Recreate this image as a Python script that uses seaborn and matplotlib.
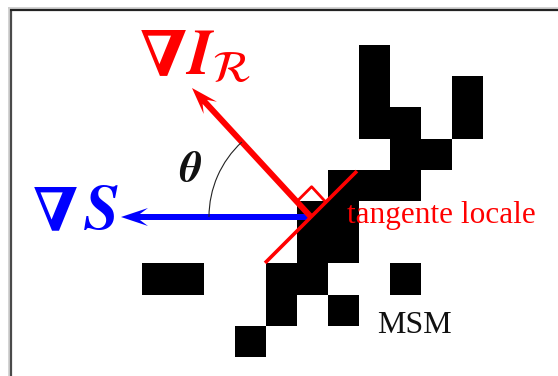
import numpy as np
import matplotlib
matplotlib.use("Agg")
import matplotlib.pyplot as plt
from matplotlib.patches import Arc
import seaborn as sns

# Black pixels of the MSM (column, row) on the coarse grid
cell_cols = [7, 7, 7, 8, 8, 8, 9, 10, 10, 6, 7, 5, 6, 5, 6, 4, 5, 4, 6, 3, 8, 0, 1]
cell_rows = [0, 1, 2, 2, 3, 4, 3, 1, 2, 4, 4, 5, 5, 6, 6, 7, 7, 8, 8, 9, 7, 7, 7]
n_cols, n_rows = 11, 10

# Geometry in image pixels
grid_left, grid_top, cell_w, cell_h = 142, 45, 31, 31.2
origin = (311, 217)
grad_s_tip = (121, 217)
grad_i_tip = (192, 88)
tangent_half = 65
right_angle_size = 21
arc_radius = 102

labels = {
    "nabla": "\u2207",
    "s": r"$\mathbfit{S}$",
    "i": r"$\mathbfit{I}_{\mathcal{R}}$",
    "theta": r"$\mathbfit{\theta}$",
    "tangent": "tangente locale",
    "msm": "MSM",
}

sns.set_theme(style="white")
plt.rcParams["mathtext.fontset"] = "stix"

W, H = 558, 376
fig = plt.figure(figsize=(W / 100, H / 100), dpi=100, facecolor="white")

# Pixel grid drawn as a masked heatmap
grid = np.zeros((n_rows, n_cols))
grid[cell_rows, cell_cols] = 1
ax_grid = fig.add_axes([grid_left / W, 1 - (grid_top + n_rows * cell_h) / H,
                        n_cols * cell_w / W, n_rows * cell_h / H])
sns.heatmap(grid, mask=grid == 0, cmap=["black"], cbar=False, ax=ax_grid,
            xticklabels=False, yticklabels=False, linewidths=0)
ax_grid.patch.set_alpha(0)
ax_grid.set_axis_off()

# Overlay in pixel coordinates
ax = fig.add_axes([0, 0, 1, 1])
ax.set_xlim(0, W)
ax.set_ylim(H, 0)
ax.set_axis_off()
ax.patch.set_alpha(0)

# frame
ax.plot([8.5, 8.5], [7, H], color="#cccccc", lw=1.2, solid_capstyle="butt")
ax.plot([8, W], [7.5, 7.5], color="#cccccc", lw=1.2, solid_capstyle="butt")
ax.plot([10.5, 10.5], [9, H], color="#4a4a4a", lw=1.6, solid_capstyle="butt")
ax.plot([9.5, W], [10, 10], color="#222222", lw=1.6, solid_capstyle="butt")

ox, oy = origin
red = "#ff0000"
blue = "#0000ff"

# tangent line
t = np.array([1, -1]) / np.sqrt(2)
ax.plot([ox - tangent_half * t[0], ox + tangent_half * t[0]],
        [oy - tangent_half * t[1], oy + tangent_half * t[1]], color=red, lw=2.6,
        solid_capstyle="butt")

# right-angle marker
u = np.array([grad_i_tip[0] - ox, grad_i_tip[1] - oy], dtype=float)
u /= np.linalg.norm(u)
p1 = np.array(origin) + right_angle_size * u
p3 = np.array(origin) + right_angle_size * t
p2 = p1 + right_angle_size * t
ax.plot([p1[0], p2[0], p3[0]], [p1[1], p2[1], p3[1]], color=red, lw=2.0)

# arrows
ax.arrow(ox, oy, grad_s_tip[0] - ox, grad_s_tip[1] - oy, width=6, head_width=18,
         head_length=27, overhang=0.3, length_includes_head=True, color=blue, lw=0)
ax.arrow(ox, oy, grad_i_tip[0] - ox, grad_i_tip[1] - oy, width=6, head_width=18,
         head_length=27, overhang=0.3, length_includes_head=True, color=red, lw=0)

# angle arc
ang = np.degrees(np.arctan2(grad_i_tip[1] - oy, grad_i_tip[0] - ox)) % 360
ax.add_patch(Arc(origin, 2 * arc_radius, 2 * arc_radius, theta1=180, theta2=ang,
                 color="#222222", lw=0.8))

# labels
ax.text(33, 230, labels["nabla"], color=blue, fontsize=43, ha="left", va="baseline",
        family="DejaVu Serif", weight="bold")
ax.text(83, 230, labels["s"], color=blue, fontsize=46, ha="left", va="baseline")
ax.text(140, 75, labels["nabla"], color=red, fontsize=45, ha="left", va="baseline",
        family="DejaVu Serif", weight="bold")
ax.text(185, 75, labels["i"], color=red, fontsize=46, ha="left", va="baseline")
ax.text(191, 169, labels["theta"], color="#111111", fontsize=31, ha="center", va="center")
ax.text(347, 223, labels["tangent"], color=red, fontsize=22.5, ha="left", va="baseline",
        family="Liberation Serif")
ax.text(377, 333, labels["msm"], color="#111111", fontsize=23, ha="left", va="baseline",
        family="Liberation Serif")

fig.savefig("out.png", dpi=100, facecolor="white")
